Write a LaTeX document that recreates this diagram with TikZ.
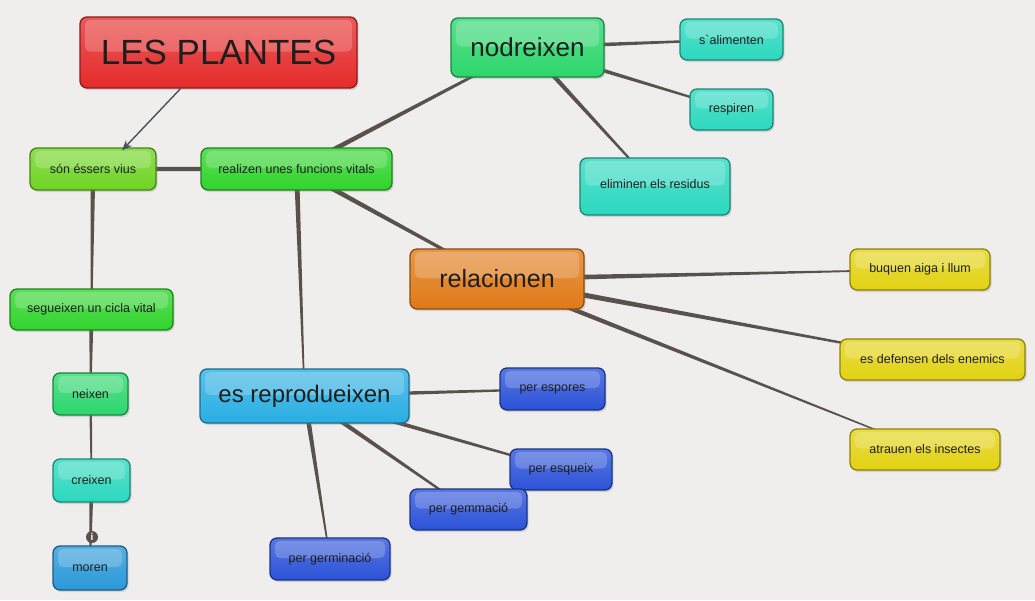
\documentclass[tikz,border=0pt]{standalone}
\usepackage{fontspec}
\setmainfont{Liberation Sans}
\newfontfamily\rawfont{Liberation Sans}
\usetikzlibrary{calc,shadows,arrows.meta}
\definecolor{bg}{HTML}{EFEEED}
\definecolor{edgec}{HTML}{5B514C}
\definecolor{arrowc}{HTML}{46525E}
\definecolor{txt}{HTML}{1E1E1E}
\definecolor{cred}{HTML}{E52B2B}
\definecolor{clime}{HTML}{6FD423}
\definecolor{cgreen}{HTML}{30D42C}
\definecolor{cmint}{HTML}{2CD66C}
\definecolor{cturq}{HTML}{2BD8BE}
\definecolor{corange}{HTML}{E07A18}
\definecolor{cyellow}{HTML}{E2D212}
\definecolor{csky}{HTML}{29AEE3}
\definecolor{cmoren}{HTML}{2A98D8}
\definecolor{cblue}{HTML}{2B52D8}
\pgfdeclarelayer{background}
\pgfdeclarelayer{edges}
\pgfsetlayers{background,edges,main}
\tikzset{
  cbox/.style={rounded corners=7pt, line width=1.3pt, draw=#1!62!black,
    top color=#1!78!white, bottom color=#1, inner sep=0pt, text=txt,
    drop shadow={opacity=0.25, shadow xshift=1.5pt, shadow yshift=-2pt},
    path picture={\fill[white,opacity=0.2,rounded corners=5pt]
      ([xshift=5pt,yshift=-3pt]path picture bounding box.north west) rectangle
      ([xshift=-5pt,yshift=1pt]path picture bounding box.east);}},
  small/.style={font=\fontsize{12.5}{14}\selectfont},
  big/.style={font=\fontsize{25}{28}\selectfont},
  edge/.style={fill=edgec},
  infodot/.style={circle, fill=edgec, inner sep=0pt, minimum size=12pt, text=white,
    font=\bfseries\fontsize{10}{10}\selectfont},
}
\newcommand\tapered[4]{\fill[edge] ($(#1)!#3!90:(#2)$) -- ($(#2)!#4!-90:(#1)$) -- ($(#2)!#4!90:(#1)$) -- ($(#1)!#3!-90:(#2)$) -- cycle;}
\begin{document}
\begin{tikzpicture}[x=1pt,y=-1pt]
\useasboundingbox (0,0) rectangle (1035,600);
\begin{pgfonlayer}{background}
\fill[bg] (0,0) rectangle (1035,600);
\end{pgfonlayer}
% nodes
\node[cbox=cred, minimum width=277pt, minimum height=71pt, font=\fontsize{35}{40}\selectfont] (plantes) at (218.5,52.5) {LES PLANTES};
\node[cbox=clime, small, minimum width=126pt, minimum height=42pt] (sonv) at (93,169) {són éssers vius};
\node[cbox=cgreen, small, minimum width=191pt, minimum height=42pt] (realizen) at (296.5,169) {realizen unes funcions vitals};
\node[cbox=cmint, minimum width=153pt, minimum height=59pt, font=\fontsize{26}{30}\selectfont] (nodreixen) at (527.5,47.5) {nodreixen\hspace{8pt}};
\node[cbox=cturq, small, minimum width=103pt, minimum height=41pt] (salim) at (731.5,39.5) {s{\rawfont`}alimenten};
\node[cbox=cturq, small, minimum width=83pt, minimum height=41pt] (respiren) at (731.5,109.5) {respiren};
\node[cbox=cturq, small, minimum width=150pt, minimum height=57pt] (eliminen) at (655,186.5) {\raisebox{6pt}{eliminen els residus}};
\node[cbox=corange, big, minimum width=174pt, minimum height=60pt] (relacionen) at (497,279) {relacionen\hspace{14pt}};
\node[cbox=cyellow, small, minimum width=140pt, minimum height=41pt] (buquen) at (920,269.5) {buquen aiga i llum};
\node[cbox=cyellow, small, minimum width=185pt, minimum height=41pt] (defensen) at (932.5,359.5) {es defensen dels enemics};
\node[cbox=cyellow, small, minimum width=150pt, minimum height=41pt] (atrauen) at (925,449.5) {atrauen els insectes};
\node[cbox=cgreen, small, minimum width=163pt, minimum height=41pt] (segueixen) at (91.5,309.5) {segueixen un cicla vital};
\node[cbox=cmint, small, minimum width=75pt, minimum height=42pt] (neixen) at (90.5,394) {neixen};
\node[cbox=cturq, small, minimum width=77pt, minimum height=43pt] (creixen) at (91.5,480.5) {creixen};
\node[cbox=cmoren, small, minimum width=74pt, minimum height=44pt] (moren) at (90,568) {moren};
\node[cbox=csky, minimum width=209pt, minimum height=54pt, font=\fontsize{24}{28}\selectfont] (reprod) at (304.5,396) {es reprodueixen\hspace{10pt}};
\node[cbox=cblue, small, minimum width=105pt, minimum height=42pt] (espores) at (552.5,389) {per espores};
\node[cbox=cblue, small, minimum width=102pt, minimum height=41pt] (esqueix) at (561,469.5) {per esqueix};
\node[cbox=cblue, small, minimum width=117pt, minimum height=41pt] (gemmacio) at (468.5,509.5) {per gemmació};
\node[cbox=cblue, small, minimum width=120pt, minimum height=42pt] (germinacio) at (330,559) {per germinació};
% connectors
\begin{pgfonlayer}{edges}
\tapered{sonv}{realizen}{2.2pt}{2pt}
\tapered{sonv}{segueixen}{2.4pt}{0.8pt}
\tapered{segueixen}{neixen}{2.2pt}{0.8pt}
\tapered{neixen}{creixen}{1.4pt}{0.7pt}
\tapered{creixen}{moren}{2.2pt}{0.7pt}
\tapered{realizen}{nodreixen}{2.6pt}{1pt}
\tapered{realizen}{relacionen}{2.6pt}{1.2pt}
\tapered{realizen}{reprod}{2.6pt}{0.6pt}
\tapered{nodreixen}{salim}{2.4pt}{0.8pt}
\tapered{nodreixen}{respiren}{2.4pt}{0.8pt}
\tapered{nodreixen}{eliminen}{2.6pt}{0.7pt}
\tapered{relacionen}{buquen}{2.8pt}{0.5pt}
\tapered{relacionen}{defensen}{3pt}{0.7pt}
\tapered{relacionen}{atrauen}{2.6pt}{0.5pt}
\tapered{reprod}{espores}{2.4pt}{0.8pt}
\tapered{reprod}{esqueix}{2.6pt}{0.8pt}
\tapered{reprod}{gemmacio}{2.6pt}{0.8pt}
\tapered{reprod}{germinacio}{2.6pt}{0.6pt}
\end{pgfonlayer}
\draw[arrowc, line width=1.4pt, -{Stealth[length=10pt,width=8pt,inset=3pt]}] ([xshift=-38pt]plantes.south) -- ([xshift=29pt,yshift=-3pt]sonv.north);
\node[infodot] (info) at (92,537) {i};
\end{tikzpicture}
\end{document}
